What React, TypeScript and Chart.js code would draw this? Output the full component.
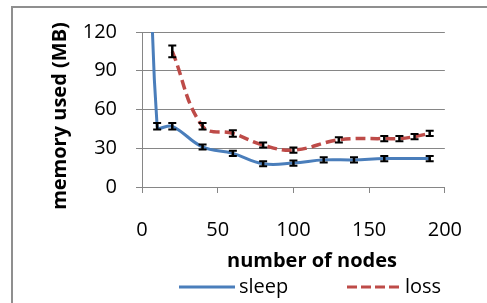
import React, { useEffect, useRef } from "react";
import { Chart, registerables } from "chart.js";

Chart.register(...registerables);

// ---- data ----
const sleepLabel = "sleep";
const lossLabel = "loss";
const xTitle = "number of nodes";
const yTitle = "memory used (MB)";

const sleepX = [5, 10, 20, 40, 60, 80, 100, 120, 140, 160, 190];
const sleepY = [300, 47, 47, 31, 26, 18, 18.5, 21, 21, 22, 22];
const sleepErr = [0, 2.5, 2.5, 2, 2, 2, 2, 2, 2, 2, 2];

const lossX = [20, 40, 60, 80, 100, 130, 160, 170, 180, 190];
const lossY = [105, 47, 41.5, 32.5, 28.5, 36.5, 37.5, 37.5, 39, 41.5];
const lossErr = [4.5, 2.5, 2.5, 2, 2, 2, 2, 2, 2, 2];

const xTicks = [0, 50, 100, 150, 200];
const yTicks = [0, 30, 60, 90, 120];

const BLUE = "#4A7EBB";
const RED = "#BE4B48";
const GRID = "#868686";
const FONT = "'Open Sans', sans-serif";

const errors: Record<number, number[]> = { 0: sleepErr, 1: lossErr };

const framePlugin = {
  id: "frame",
  beforeDraw(chart: any) {
    const ctx = chart.ctx;
    ctx.save();
    ctx.fillStyle = "#fff";
    ctx.fillRect(0, 0, chart.width, chart.height);
    ctx.strokeStyle = "#8f8f8f";
    ctx.lineWidth = 2;
    ctx.beginPath();
    ctx.moveTo(12, chart.height);
    ctx.lineTo(12, 7);
    ctx.lineTo(chart.width, 7);
    ctx.stroke();
    ctx.restore();
  },
};

const errorBarPlugin = {
  id: "errorBars",
  afterDatasetsDraw(chart: any) {
    const ctx = chart.ctx;
    const ys = chart.scales.y;
    const area = chart.chartArea;
    ctx.save();
    ctx.beginPath();
    ctx.rect(area.left, area.top - 4, area.right - area.left, area.bottom - area.top + 8);
    ctx.clip();
    ctx.strokeStyle = "#000";
    chart.data.datasets.forEach((ds: any, di: number) => {
      const errs = errors[di];
      const meta = chart.getDatasetMeta(di);
      ds.data.forEach((p: any, i: number) => {
        const e = errs[i];
        if (!e) return;
        const el = meta.data[i];
        const x = el.x;
        const yTop = ys.getPixelForValue(p.y + e);
        const yBot = ys.getPixelForValue(p.y - e);
        ctx.lineWidth = 2.5;
        ctx.beginPath();
        ctx.moveTo(x, yTop);
        ctx.lineTo(x, yBot);
        ctx.stroke();
        ctx.lineWidth = 2;
        ctx.beginPath();
        ctx.moveTo(x - 4, yTop);
        ctx.lineTo(x + 4, yTop);
        ctx.moveTo(x - 4, yBot);
        ctx.lineTo(x + 4, yBot);
        ctx.stroke();
      });
    });
    ctx.restore();
  },
};

const textPlugin = {
  id: "texts",
  afterDraw(chart: any) {
    const ctx = chart.ctx;
    ctx.save();
    ctx.fillStyle = "#000";
    // x title
    ctx.font = `bold 20px ${FONT}`;
    ctx.textAlign = "center";
    ctx.textBaseline = "alphabetic";
    ctx.fillText(xTitle, 312, 267);
    // y title
    ctx.save();
    ctx.translate(66, 116);
    ctx.rotate(-Math.PI / 2);
    ctx.fillText(yTitle, 0, 0);
    ctx.restore();
    // legend
    const ly = 287;
    ctx.lineWidth = 3;
    ctx.strokeStyle = BLUE;
    ctx.beginPath();
    ctx.moveTo(179, ly);
    ctx.lineTo(235, ly);
    ctx.stroke();
    ctx.strokeStyle = RED;
    ctx.setLineDash([10, 4]);
    ctx.beginPath();
    ctx.moveTo(347, ly);
    ctx.lineTo(401, ly);
    ctx.stroke();
    ctx.setLineDash([]);
    ctx.font = `20px ${FONT}`;
    ctx.textAlign = "left";
    ctx.fillText(sleepLabel, 239, 293);
    ctx.fillText(lossLabel, 405, 293);
    ctx.restore();
  },
};

export default function App() {
  const ref = useRef<HTMLCanvasElement>(null);
  useEffect(() => {
    if (!ref.current) return;
    const chart = new Chart(ref.current, {
      type: "line",
      data: {
        datasets: [
          {
            label: sleepLabel,
            data: sleepX.map((x, i) => ({ x, y: sleepY[i] })),
            borderColor: BLUE,
            backgroundColor: BLUE,
            borderWidth: 3,
            pointRadius: 0,
            tension: 0.4,
            fill: false,
          },
          {
            label: lossLabel,
            data: lossX.map((x, i) => ({ x, y: lossY[i] })),
            borderColor: RED,
            backgroundColor: RED,
            borderWidth: 3.5,
            borderDash: [10, 5],
            pointRadius: 0,
            tension: 0.4,
            fill: false,
          },
        ],
      },
      options: {
        responsive: false,
        animation: false,
        devicePixelRatio: 1,
        layout: { padding: { left: 0, top: 32, right: 32, bottom: 0 } },
        plugins: {
          legend: { display: false },
          tooltip: { enabled: false },
        },
        scales: {
          x: {
            type: "linear",
            min: 0,
            max: 200,
            afterFit: (s: any) => {
              s.height = 116;
            },
            afterBuildTicks: (s: any) => {
              s.ticks = xTicks.map((v) => ({ value: v }));
            },
            ticks: {
              font: { family: FONT, size: 20 },
              color: "#000",
              padding: 25,
              maxRotation: 0,
            },
            grid: {
              drawOnChartArea: false,
              drawTicks: true,
              tickLength: 6,
              color: GRID,
            },
            border: { color: GRID, width: 1 },
          },
          y: {
            min: 0,
            max: 120,
            afterFit: (s: any) => {
              s.width = 142;
            },
            afterBuildTicks: (s: any) => {
              s.ticks = yTicks.map((v) => ({ value: v }));
            },
            ticks: {
              font: { family: FONT, size: 20 },
              color: "#000",
              padding: 19,
            },
            grid: {
              color: GRID,
              tickLength: 6,
            },
            border: { color: GRID, width: 1 },
          },
        },
      },
      plugins: [framePlugin, errorBarPlugin, textPlugin],
    } as any);
    return () => chart.destroy();
  }, []);
  return (
    <div style={{ position: "absolute", left: 0, top: 0, width: 487, height: 303 }}>
      <canvas ref={ref} width={487} height={303} style={{ display: "block" }} />
    </div>
  );
}
